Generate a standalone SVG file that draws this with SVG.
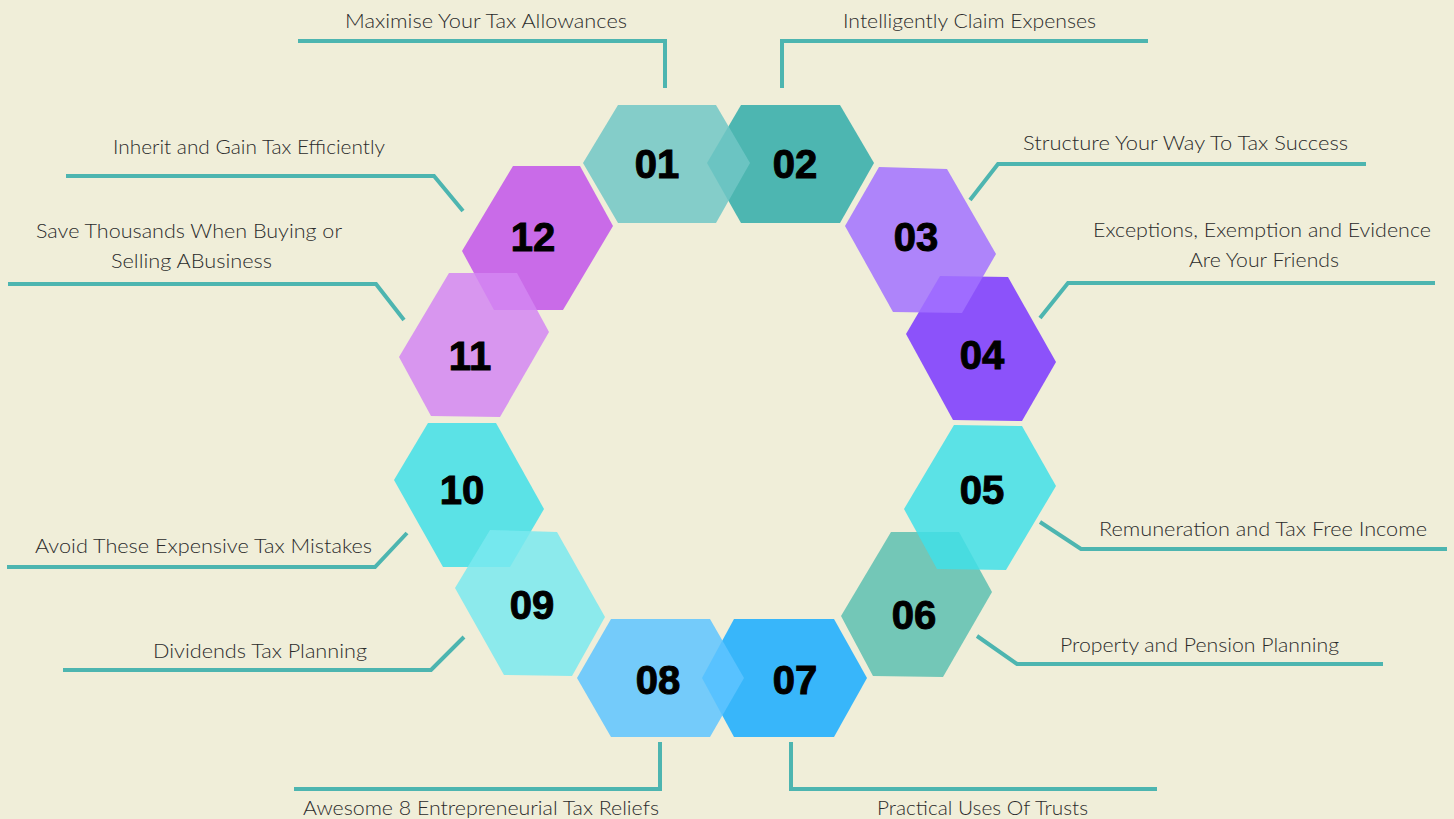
<svg xmlns="http://www.w3.org/2000/svg" width="1454" height="819" viewBox="0 0 1454 819">
<style>
.bg{fill:#f0eed9}
.hex{fill-opacity:0.85}
.num{font-family:"Liberation Sans",Arial,sans-serif;font-weight:bold;font-size:40px;fill:#000;stroke:#000;stroke-width:1;text-anchor:middle}
.lbl{font-family:Lato,"Open Sans",sans-serif;font-weight:300;font-size:20px;fill:#2b2b2b}
.con{fill:none;stroke:#4db5b0;stroke-width:4}
</style>
<rect class="bg" x="0" y="0" width="1454" height="819"/>
<g id="connectors">
<polyline class="con" points="298,41 665,41 665,88"/>
<polyline class="con" points="782,88 782,41 1148,41"/>
<polyline class="con" points="970,200 998,164 1366,164"/>
<polyline class="con" points="1040,318 1068,283 1435,283"/>
<polyline class="con" points="1040,522 1081,549 1447,549"/>
<polyline class="con" points="977,636 1017,664 1383,664"/>
<polyline class="con" points="791,742 791,789 1157,789"/>
<polyline class="con" points="660,742 660,789 294,789"/>
<polyline class="con" points="464,637 431,670 63,670"/>
<polyline class="con" points="407,533 375,567 7,567"/>
<polyline class="con" points="404,320 376,284 8,284"/>
<polyline class="con" points="463,211 434,176 66,176"/>
</g>
<g id="node12">
<polygon class="hex" fill="#c254ea" points="513,166 580,166 613,226 563,310 494,310 462,251"/>
<text class="num" x="533" y="251">12</text>
<text class="lbl" x="113" y="154" textLength="272" lengthAdjust="spacingAndGlyphs">Inherit and Gain Tax Efficiently</text>
</g>
<g id="node11">
<polygon class="hex" fill="#d486f2" points="449,273 517,273 549,332 500,417 431,416 399,357"/>
<text class="num" x="470" y="370">11</text>
<text class="lbl" x="36" y="238" textLength="306" lengthAdjust="spacingAndGlyphs">Save Thousands When Buying or</text>
<text class="lbl" x="111" y="268" textLength="161" lengthAdjust="spacingAndGlyphs">Selling ABusiness</text>
</g>
<g id="node02">
<polygon class="hex" fill="#30aba9" points="707,163 741,105 840,105 874,163 840,223 741,223"/>
<text class="num" x="795" y="178">02</text>
<text class="lbl" x="843" y="28" textLength="253" lengthAdjust="spacingAndGlyphs">Intelligently Claim Expenses</text>
</g>
<g id="node01">
<polygon class="hex" fill="#71c7c5" points="583,163 618,105 716,105 750,163 716,223 618,223"/>
<text class="num" x="657" y="178">01</text>
<text class="lbl" x="345" y="28" textLength="282" lengthAdjust="spacingAndGlyphs">Maximise Your Tax Allowances</text>
</g>
<g id="node04">
<polygon class="hex" fill="#7a36ff" points="940,276 1008,277 1056,362 1022,421 953,420 906,334"/>
<text class="num" x="982" y="369">04</text>
<text class="lbl" x="1093" y="237" textLength="338" lengthAdjust="spacingAndGlyphs">Exceptions, Exemption and Evidence</text>
<text class="lbl" x="1189" y="267" textLength="150" lengthAdjust="spacingAndGlyphs">Are Your Friends</text>
</g>
<g id="node03">
<polygon class="hex" fill="#a271ff" points="879,167 947,169 996,254 962,313 893,312 845,226"/>
<text class="num" x="916" y="251">03</text>
<text class="lbl" x="1023" y="150" textLength="325" lengthAdjust="spacingAndGlyphs">Structure Your Way To Tax Success</text>
</g>
<g id="node06">
<polygon class="hex" fill="#5dbfb0" points="891,532 959,532 992,592 943,677 873,676 841,616"/>
<text class="num" x="914" y="629">06</text>
<text class="lbl" x="1060" y="652" textLength="279" lengthAdjust="spacingAndGlyphs">Property and Pension Planning</text>
</g>
<g id="node05">
<polygon class="hex" fill="#41dfe8" points="954,425 1022,426 1056,486 1006,570 937,569 904,509"/>
<text class="num" x="982" y="504">05</text>
<text class="lbl" x="1099" y="536" textLength="328" lengthAdjust="spacingAndGlyphs">Remuneration and Tax Free Income</text>
</g>
<g id="node07">
<polygon class="hex" fill="#18acff" points="702,678 734,619 834,619 867,678 834,737 734,737"/>
<text class="num" x="795" y="694">07</text>
<text class="lbl" x="877" y="815" textLength="211" lengthAdjust="spacingAndGlyphs">Practical Uses Of Trusts</text>
</g>
<g id="node08">
<polygon class="hex" fill="#5ec4ff" points="577,678 611,619 710,619 744,678 710,737 611,737"/>
<text class="num" x="658" y="694">08</text>
<text class="lbl" x="303" y="815" textLength="356" lengthAdjust="spacingAndGlyphs">Awesome 8 Entrepreneurial Tax Reliefs</text>
</g>
<g id="node10">
<polygon class="hex" fill="#41dfe8" points="428,423 496,423 544,509 510,567 443,567 394,480"/>
<text class="num" x="462" y="504">10</text>
<text class="lbl" x="35" y="553" textLength="337" lengthAdjust="spacingAndGlyphs">Avoid These Expensive Tax Mistakes</text>
</g>
<g id="node09">
<polygon class="hex" fill="#7ae9ef" points="490,530 557,532 605,617 572,676 504,675 455,588"/>
<text class="num" x="532" y="619">09</text>
<text class="lbl" x="153" y="658" textLength="214" lengthAdjust="spacingAndGlyphs">Dividends Tax Planning</text>
</g>
</svg>
